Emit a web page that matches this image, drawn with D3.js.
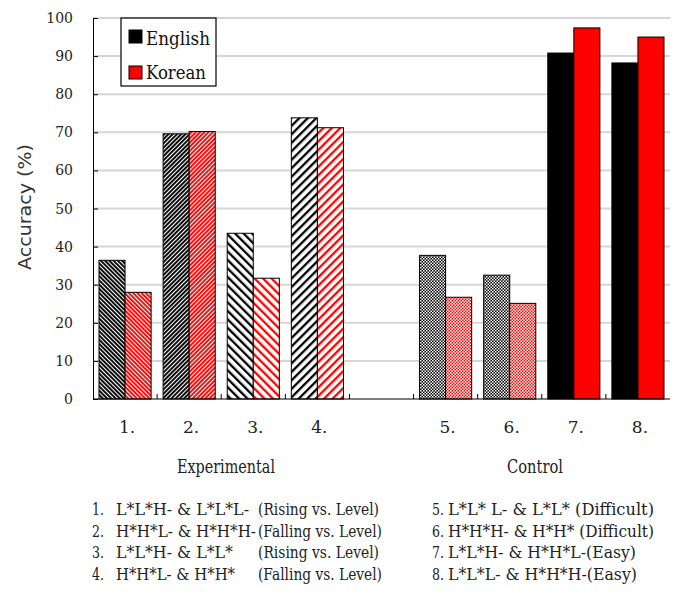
<!DOCTYPE html>
<html><head><meta charset="utf-8">
<script src="https://cdn.jsdelivr.net/npm/d3@7"></script>
<style>body{margin:0;background:#fff}svg{display:block}</style>
</head><body>
<script>
// ---- data ----
const categories = ["1.","2.","3.","4.","gap","5.","6.","7.","8."];
const seriesNames = ["English","Korean"];
const english = [36.4, 69.6, 43.5, 73.8, null, 37.7, 32.5, 90.8, 88.2];
const korean  = [28.0, 70.2, 31.7, 71.2, null, 26.7, 25.1, 97.4, 95.0];
const yTicks = [0,10,20,30,40,50,60,70,80,90,100];
const groupLabels = ["Experimental","Control"];
const notesLeft = [
  ["1.","L*L*H- & L*L*L-","(Rising vs. Level)"],
  ["2.","H*H*L- & H*H*H-","(Falling vs. Level)"],
  ["3.","L*L*H- & L*L*","(Rising vs. Level)"],
  ["4.","H*H*L- & H*H*","(Falling vs. Level)"]
];
const notesRight = [
  ["5.","L*L* L-  & L*L*  (Difficult)"],
  ["6.","H*H*H-  & H*H* (Difficult)"],
  ["7.","L*L*H- & H*H*L-(Easy)"],
  ["8.","L*L*L- & H*H*H-(Easy)"]
];
// text widths / pattern styles (layout, not data)
const leftFormulaW = [133, 140, 117, 119];
const leftParenW = [121, 124, 121, 124];
const rightTextW = [206, 206, 188, 189];
const patternKind = ["dense-back","dense-fwd","wide-back","wide-fwd",null,"checker","checker","solid","solid"];
const colors = {English:"#000000", Korean:"#ff0000"};
const SERIF = "'DejaVu Serif', 'Liberation Serif', serif";

const W=676,H=592;
const svg=d3.select("body").append("svg").attr("width",W).attr("height",H);
const defs=svg.append("defs");

function diag(id,color,period,sw,angle){
  const p=defs.append("pattern").attr("id",id).attr("patternUnits","userSpaceOnUse")
    .attr("width",period).attr("height",period).attr("patternTransform",`rotate(${angle})`);
  p.append("rect").attr("width",period).attr("height",period).attr("fill","#fff");
  p.append("rect").attr("x",0).attr("y",0).attr("width",sw).attr("height",period).attr("fill",color);
}
function checker(id,color){
  const p=defs.append("pattern").attr("id",id).attr("patternUnits","userSpaceOnUse")
    .attr("width",3).attr("height",3);
  p.append("rect").attr("width",3).attr("height",3).attr("fill",color);
  p.append("rect").attr("x",0).attr("y",0).attr("width",1.5).attr("height",1.5).attr("fill","#fff");
  p.append("rect").attr("x",1.5).attr("y",1.5).attr("width",1.5).attr("height",1.5).attr("fill","#fff");
}
seriesNames.forEach(s=>{
  const c=colors[s];
  diag(`dense-back-${s}`,c,3,1.9,-45);
  diag(`dense-fwd-${s}`,c,3,1.9,45);
  diag(`wide-back-${s}`,c,6,2.3,-45);
  diag(`wide-fwd-${s}`,c,6,2.3,45);
  checker(`checker-${s}`,c);
});
function fillFor(kind,s){ return kind==="solid"? colors[s] : `url(#${kind}-${s})`; }

const x0=d3.scaleBand().domain(categories).range([93,670]).padding(0);
const x1=d3.scaleBand().domain(seriesNames).range([6,x0.bandwidth()-6]).padding(0);
const y=d3.scaleLinear().domain([0,100]).range([399,18]);

// gridlines
svg.append("g").selectAll("line").data(yTicks.filter(d=>d>0)).join("line")
  .attr("x1",93).attr("x2",670).attr("y1",d=>y(d)).attr("y2",d=>y(d))
  .attr("stroke","#d6d6d6").attr("stroke-width",2);

// bars
const rows=categories.map((c,i)=>({c,i,English:english[i],Korean:korean[i]}));
const g=svg.append("g");
rows.forEach(r=>{
  if(r.English==null) return;
  seriesNames.forEach(s=>{
    g.append("rect")
      .attr("x",x0(r.c)+x1(s)).attr("width",x1.bandwidth())
      .attr("y",y(r[s])).attr("height",y(0)-y(r[s]))
      .attr("fill",fillFor(patternKind[r.i],s))
      .attr("stroke","#000").attr("stroke-width",1);
  });
});

// axes
const yAxis=svg.append("g").attr("transform","translate(93,0)")
  .call(d3.axisRight(y).tickValues(yTicks).tickSize(5).tickFormat(""));
yAxis.select(".domain").attr("stroke","#000");
yAxis.selectAll(".tick line").attr("stroke","#000");
svg.append("g").selectAll("text").data(yTicks).join("text")
  .attr("x",73).attr("y",d=>y(d)+5).attr("text-anchor","end")
  .style("font-family",SERIF).attr("font-size",14).attr("fill","#222")
  .text(d=>d);

const xAxis=svg.append("g").attr("transform","translate(0,399)")
  .call(d3.axisTop(x0).tickSize(0).tickFormat(""));
xAxis.select(".domain").attr("stroke","#000").attr("d","M93,0H670");
svg.append("g").selectAll("line").data(categories.slice(1)).join("line")
  .attr("x1",d=>x0(d)).attr("x2",d=>x0(d)).attr("y1",399).attr("y2",394)
  .attr("stroke","#000");
svg.append("g").selectAll("text").data(categories.filter(c=>c!=="gap")).join("text")
  .attr("x",d=>x0(d)+x0.bandwidth()/2+2).attr("y",433).attr("text-anchor","middle")
  .style("font-family",SERIF).attr("font-size",17).attr("fill","#222")
  .text(d=>d);

// y label
svg.append("text").attr("transform","translate(31,207) rotate(-90)")
  .attr("text-anchor","middle").style("font-family","'DejaVu Sans', sans-serif").attr("font-size",18)
  .attr("textLength",126).attr("lengthAdjust","spacingAndGlyphs")
  .attr("fill","#333").text("Accuracy (%)");

// group labels
const grpX=[ 226, 535 ];
const grpW=[ 98, 56 ];
svg.append("g").selectAll("text").data(groupLabels).join("text")
  .attr("x",(d,i)=>grpX[i]-grpW[i]/2).attr("y",473)
  .attr("textLength",(d,i)=>grpW[i]).attr("lengthAdjust","spacingAndGlyphs")
  .style("font-family",SERIF).attr("font-size",19).attr("fill","#222")
  .text(d=>d);

// notes
const noteY=[515,537,558,580];
const nl=svg.append("g").attr("fill","#222");
function nt(x,yv,t,len){
  const e=nl.append("text").attr("x",x).attr("y",yv).style("font-family",SERIF).attr("font-size",17).text(t);
  if(len) e.attr("textLength",len).attr("lengthAdjust","spacingAndGlyphs");
  return e;
}
notesLeft.forEach((n,i)=>{
  nt(92,noteY[i],n[0],12);
  nt(116,noteY[i],n[1],leftFormulaW[i]);
  nt(258,noteY[i],n[2],leftParenW[i]);
});
notesRight.forEach((n,i)=>{
  nt(432,noteY[i],n[0],12);
  nt(448,noteY[i],n[1],rightTextW[i]);
});

// legend
const lg=svg.append("g");
lg.append("rect").attr("x",121).attr("y",18).attr("width",95).attr("height",68)
  .attr("fill","#fff").attr("stroke","#000").attr("stroke-width",1.2);
seriesNames.forEach((s,i)=>{
  lg.append("rect").attr("x",129).attr("y",30+i*36).attr("width",13).attr("height",13)
    .attr("fill",colors[s]).attr("stroke","#000");
  lg.append("text").attr("x",146).attr("y",45+i*34).style("font-family",SERIF)
    .attr("font-size",19).attr("textLength",i===0?64:60).attr("lengthAdjust","spacingAndGlyphs")
    .attr("fill","#111").text(s);
});
</script>
</body></html>
